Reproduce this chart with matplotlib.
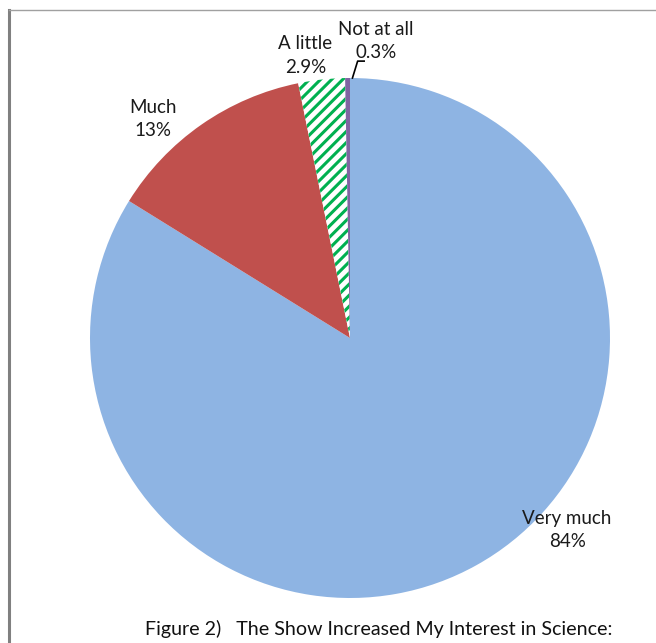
import numpy as np
import matplotlib.pyplot as plt
from matplotlib.lines import Line2D

plt.rcParams['font.family'] = ['Lato', 'DejaVu Sans']
plt.rcParams['hatch.linewidth'] = 2.2

# data
labels = ['Very much', 'Much', 'A little', 'Not at all']
pct_text = ['84%', '13%', '2.9%', '0.3%']
values = [84, 13, 2.9, 0.3]
colors = ['#8EB4E3', '#C0504D', 'white', '#8064A2']

# label placement (angle in deg, distance in radii)
label_angle = [-41.5, 132, 99, 85]
label_dist = [1.115, 1.135, 1.10, 1.146]

fig = plt.figure(figsize=(6.56, 6.43), dpi=100)
W, H = 656, 643
cx, cy, R = 350, 338, 260
ax = fig.add_axes([(cx - R) / W, (H - cy - R) / H, 2 * R / W, 2 * R / H])

wedges, _ = ax.pie(values, colors=colors, startangle=90, counterclock=False,
                   wedgeprops=dict(linewidth=0))
wedges[2].set_edgecolor('#00B050')
wedges[2].set_hatch('///')
ax.set_xlim(-1, 1)
ax.set_ylim(-1, 1)

for i, (lab, p) in enumerate(zip(labels, pct_text)):
    a = np.deg2rad(label_angle[i])
    x = label_dist[i] * np.cos(a)
    y = label_dist[i] * np.sin(a)
    ax.text(x, y, lab + '\n' + p, ha='center', va='center', fontsize=13.5,
            color='#1a1a1a', linespacing=1.45, clip_on=False)

# leader line for the tiny slice
th = np.deg2rad(90 - values[3] / sum(values) * 180)
x0, y0 = np.cos(th), np.sin(th)
ax.add_line(Line2D([x0, x0 + 0.02, x0 + 0.045], [y0, y0 + 0.065, y0 + 0.065],
                   color='black', lw=1.2, clip_on=False))

# outer frame lines
fig.add_artist(Line2D([9 / W, 9 / W], [0, 1 - 10 / H], color='#808080', lw=2.2))
fig.add_artist(Line2D([9 / W, 1], [1 - 10 / H, 1 - 10 / H], color='#A0A0A0', lw=1))

fig.text(145 / W, 1 - 629 / H, 'Figure 2)   The Show Increased My Interest in Science:',
         ha='left', va='center', fontsize=14.1, color='#111111')

fig.savefig('out.png', dpi=100, facecolor='white')
